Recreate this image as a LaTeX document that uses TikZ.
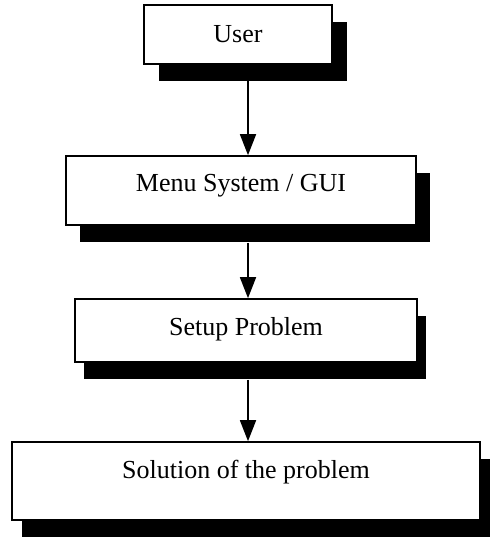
\documentclass[tikz,border=0pt]{standalone}
\usepackage{fontspec}
\setmainfont{Liberation Serif}
\usetikzlibrary{arrows.meta,shadows}
\tikzset{
  flowbox/.style={draw=black, line width=1.6pt, fill=white, inner sep=0pt,
    font=\fontsize{26}{30}\selectfont, text height=17pt},
  shad/.style={drop shadow={shadow xshift=#1pt, shadow yshift=-17pt, fill=black, opacity=1}},
  flowarrow/.style={line width=1.6pt, -{Triangle[length=21pt,width=16pt]}}
}
\begin{document}
\begin{tikzpicture}[x=1pt,y=-1pt]
\useasboundingbox (0,0) rectangle (491,537);
\node[flowbox, shad=15, text depth=1pt, minimum width=188pt, minimum height=59pt] (user) at (238,34.5) {User};
\node[flowbox, shad=14, text depth=14pt, minimum width=350pt, minimum height=69pt] (menu) at (241,190.5) {Menu System / GUI};
\node[flowbox, shad=9, text depth=8pt, minimum width=342pt, minimum height=63pt] (setup) at (246,330.5) {Setup Problem};
\node[flowbox, shad=10, text depth=23pt, minimum width=468pt, minimum height=78pt] (sol) at (246,481) {Solution of the problem};
\draw[flowarrow] (user.south -| 248,0) -- (menu.north -| 248,0);
\draw[flowarrow] (menu.south -| 248,0) ++(0,17) -- (setup.north -| 248,0);
\draw[flowarrow] (setup.south -| 248,0) ++(0,17) -- (sol.north -| 248,0);
\end{tikzpicture}
\end{document}
